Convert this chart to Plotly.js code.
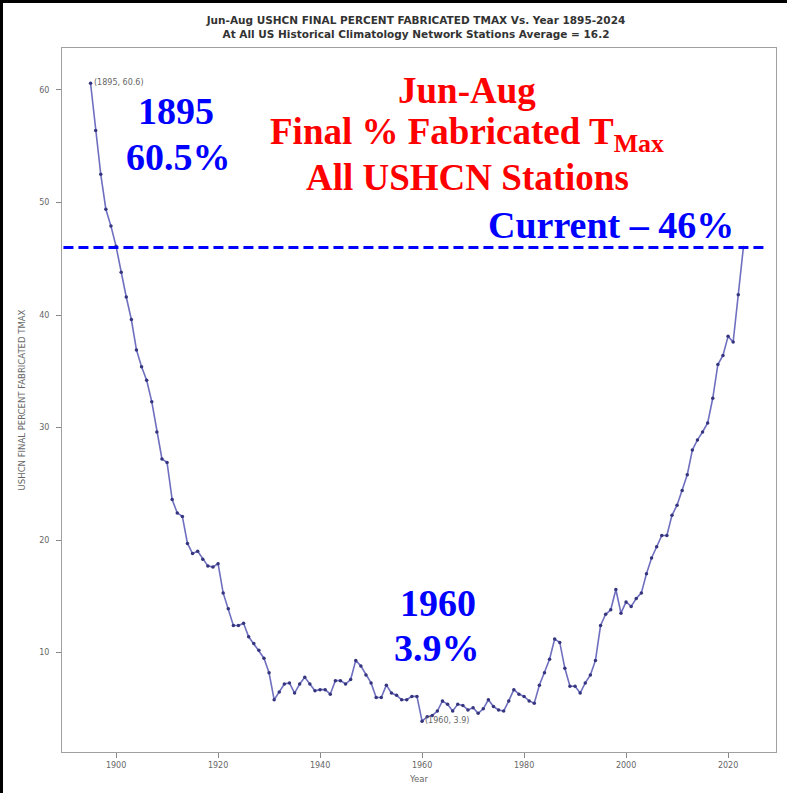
<!DOCTYPE html>
<html>
<head>
<meta charset="utf-8">
<script src="https://cdn.plot.ly/plotly-3.0.1.min.js"></script>
<style>
  html, body { margin: 0; padding: 0; background: #fff; }
  #chart { position: absolute; left: 0; top: 0; width: 787px; height: 793px; }
  .edge { position: absolute; background: #000; }
</style>
</head>
<body>
<div id="chart"></div>
<div class="edge" style="left:0;top:0;width:3px;height:793px;"></div>
<div class="edge" style="left:0;top:0;width:787px;height:3px;"></div>
<script>
// ---- data ----
const years = [
  1895,1896,1897,1898,1899,1900,1901,1902,1903,1904,
  1905,1906,1907,1908,1909,1910,1911,1912,1913,1914,
  1915,1916,1917,1918,1919,1920,1921,1922,1923,1924,
  1925,1926,1927,1928,1929,1930,1931,1932,1933,1934,
  1935,1936,1937,1938,1939,1940,1941,1942,1943,1944,
  1945,1946,1947,1948,1949,1950,1951,1952,1953,1954,
  1955,1956,1957,1958,1959,1960,1961,1962,1963,1964,
  1965,1966,1967,1968,1969,1970,1971,1972,1973,1974,
  1975,1976,1977,1978,1979,1980,1981,1982,1983,1984,
  1985,1986,1987,1988,1989,1990,1991,1992,1993,1994,
  1995,1996,1997,1998,1999,2000,2001,2002,2003,2004,
  2005,2006,2007,2008,2009,2010,2011,2012,2013,2014,
  2015,2016,2017,2018,2019,2020,2021,2022,2023
];
const pctFabricated = [
  60.6,56.4,52.5,49.4,47.9,46.1,43.8,41.6,39.6,36.9,
  35.4,34.2,32.3,29.6,27.2,26.9,23.6,22.4,22.1,19.7,
  18.8,19.0,18.3,17.7,17.6,17.9,15.3,13.9,12.4,12.4,
  12.6,11.4,10.8,10.2,9.5,8.2,5.8,6.5,7.2,7.3,
  6.4,7.2,7.8,7.2,6.6,6.7,6.7,6.3,7.5,7.5,
  7.2,7.6,9.3,8.8,8.0,7.3,6.0,6.0,7.1,6.4,
  6.2,5.8,5.8,6.1,6.1,3.9,4.3,4.4,4.8,5.7,
  5.4,4.8,5.4,5.3,4.9,5.1,4.6,5.0,5.8,5.2,
  4.9,4.8,5.7,6.7,6.3,6.1,5.7,5.5,7.1,8.2,
  9.4,11.2,10.9,8.6,7.0,7.0,6.4,7.3,8.0,9.3,
  12.4,13.4,13.8,15.6,13.5,14.5,14.1,14.8,15.3,17.0,
  18.4,19.4,20.4,20.4,22.2,23.1,24.4,25.8,28.0,28.9,
  29.6,30.4,32.6,35.6,36.4,38.1,37.6,41.8,46.0
];
const xTicks = [1900,1920,1940,1960,1980,2000,2020];
const yTicks = [10,20,30,40,50,60];
const currentLevel = 46;
const pointLabels = [
  {year: 1895, value: 60.6, text: '(1895, 60.6)'},
  {year: 1960, value: 3.9, text: '(1960, 3.9)'}
];
const titleLine1 = 'Jun-Aug USHCN FINAL PERCENT FABRICATED TMAX Vs. Year 1895-2024';
const titleLine2 = 'At All US Historical Climatology Network Stations Average = 16.2';

// ---- layout geometry ----
const W = 787, H = 793;
const mL = 62, mR = 11, mT = 48, mB = 41;
const plotW = W - mL - mR, plotH = H - mT - mB;
const xr = [1889.4, 2029.4];
const yr = [1.16, 63.73];
// pixel -> paper helpers for free-floating text
const pxX = px => (px - mL) / plotW;
const pxY = py => (H - mB - py) / plotH;

const serifBlue = {family: '"Liberation Serif", "Times New Roman", serif', size: 38, color: '#0000ff'};
const serifRed = {family: '"Liberation Serif", "Times New Roman", serif', size: 37, color: '#ff0000'};

function bigText(px, py, text, font) {
  return {xref: 'paper', yref: 'paper', x: pxX(px), y: pxY(py), text: '<b>' + text + '</b>',
          showarrow: false, xanchor: 'center', yanchor: 'middle', font: font};
}

const annotations = [
  bigText(176, 111, '1895', serifBlue),
  bigText(178, 157, '60.5%', serifBlue),
  bigText(438, 603, '1960', serifBlue),
  bigText(437, 648, '3.9%', serifBlue),
  bigText(611, 225, 'Current – 46%', serifBlue),
  bigText(467, 90, 'Jun-Aug', serifRed),
  bigText(467, 134, 'Final % Fabricated T<sub>Max</sub>', serifRed),
  bigText(467, 177, 'All USHCN Stations', serifRed)
];
pointLabels.forEach(p => annotations.push({
  xref: 'x', yref: 'y', x: p.year, y: p.value, text: p.text, showarrow: false,
  xanchor: 'left', yanchor: 'middle', xshift: 1, yshift: 1,
  font: {family: 'DejaVu Sans', size: 8, color: '#666'}
}));

const trace = {
  x: years, y: pctFabricated, type: 'scatter', mode: 'lines+markers',
  line: {color: 'rgba(95,95,185,0.9)', width: 1.6},
  marker: {color: '#35357f', size: 3.5},
  hoverinfo: 'x+y'
};

const axisCommon = {
  showgrid: false, zeroline: false, showline: true, mirror: true,
  linecolor: '#a0a0a0', linewidth: 1, ticks: 'outside', ticklen: 5, tickcolor: '#888',
  tickfont: {family: 'DejaVu Sans', size: 8, color: '#666'}
};

const layout = {
  width: W, height: H,
  margin: {l: mL, r: mR, t: mT, b: mB, pad: 0},
  paper_bgcolor: '#fff', plot_bgcolor: '#fff',
  showlegend: false,
  title: {
    text: '<b>' + titleLine1 + '<br>' + titleLine2 + '</b>',
    font: {family: 'DejaVu Sans', size: 10.5, color: '#333'},
    x: 416 / W, xref: 'container', xanchor: 'center',
    y: 1 - 24 / H, yref: 'container', yanchor: 'middle'
  },
  xaxis: Object.assign({}, axisCommon, {
    range: xr, tickvals: xTicks, ticktext: xTicks.map(String),
    title: {text: 'Year', standoff: 7, font: {family: 'DejaVu Sans', size: 8.5, color: '#666'}}
  }),
  yaxis: Object.assign({}, axisCommon, {
    range: yr, tickvals: yTicks, ticktext: yTicks.map(String), ticklabelstandoff: 5,
    title: {text: 'USHCN FINAL PERCENT FABRICATED TMAX', standoff: 12, font: {family: 'DejaVu Sans', size: 8.5, color: '#666'}}
  }),
  shapes: [{
    type: 'line', xref: 'paper', yref: 'y', x0: 0.002, x1: 0.987, y0: currentLevel, y1: currentLevel,
    line: {color: '#0000ff', width: 3, dash: '10px,5px'}
  }],
  annotations: annotations
};

Plotly.newPlot('chart', [trace], layout, {displayModeBar: false, staticPlot: true});
</script>
</body>
</html>
